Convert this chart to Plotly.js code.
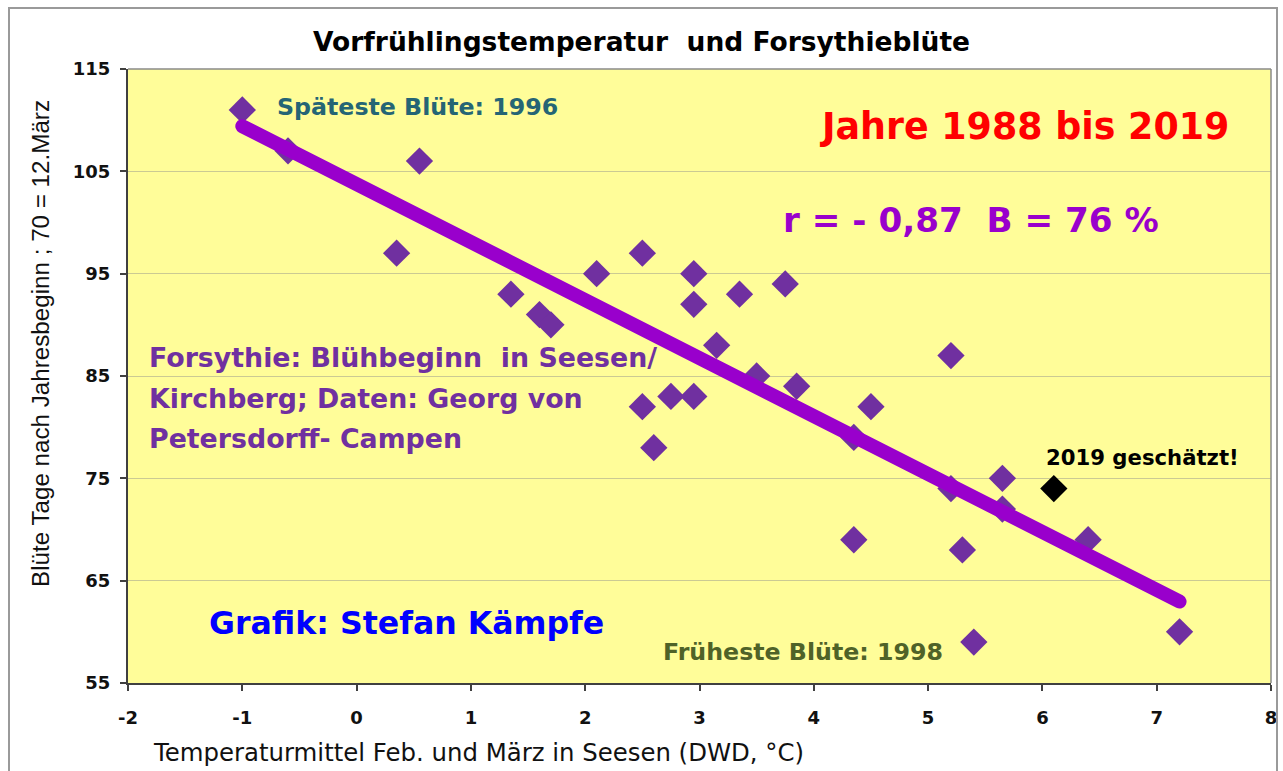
<!DOCTYPE html>
<html>
<head>
<meta charset="utf-8">
<script src="https://cdn.plot.ly/plotly-3.0.1.min.js"></script>
<style>
  html, body { margin: 0; padding: 0; background: #ffffff; }
  #wrap { position: relative; width: 1283px; height: 771px; overflow: hidden; }
  #chart { position: absolute; left: 0; top: 0; width: 1283px; height: 771px; }
  #frame { position: absolute; left: 8px; top: 7px; width: 1266px; height: 800px; border: 2px solid #9a9a9a; pointer-events: none; }
  .scatterlayer .js-line { stroke-linecap: round !important; }
</style>
</head>
<body>
<div id="wrap">
  <div id="chart"></div>
  <div id="frame"></div>
</div>
<script>
// Forsythia bloom (days after 1 Jan) vs. mean Feb/March temperature, Seesen, 1988-2018
const tempX = [-1.0, -0.6, 0.55, 0.35, 1.35, 1.6, 1.7, 2.1, 2.5, 2.95, 2.95, 3.35, 3.75, 3.15, 3.5, 3.85,
               2.5, 2.75, 2.95, 2.6, 5.2, 4.5, 4.35, 5.65, 5.2, 5.65, 4.35, 5.3, 6.4, 5.4, 7.2];
const bloomY = [111, 107, 106, 97, 93, 91, 90, 95, 97, 95, 92, 93, 94, 88, 85, 84,
                82, 83, 83, 78, 87, 82, 79, 75, 74, 72, 69, 68, 69, 59, 60];
// 2019 estimate
const est2019X = [6.1];
const est2019Y = [74];

const xTicks = [-2, -1, 0, 1, 2, 3, 4, 5, 6, 7, 8];
const yTicks = [55, 65, 75, 85, 95, 105, 115];

// least-squares trend line over the data range
const n = tempX.length;
const mx = tempX.reduce((a, b) => a + b, 0) / n;
const my = bloomY.reduce((a, b) => a + b, 0) / n;
let sxy = 0, sxx = 0;
for (let i = 0; i < n; i++) { sxy += (tempX[i] - mx) * (bloomY[i] - my); sxx += (tempX[i] - mx) ** 2; }
const slope = sxy / sxx;
const icpt = my - slope * mx;
const trendX = [Math.min(...tempX), Math.max(...tempX)];
const trendY = trendX.map(x => icpt + slope * x);

const BOLD = 'DejaVu Sans';

const traces = [
  { x: tempX, y: bloomY, type: 'scatter', mode: 'markers',
    marker: { symbol: 'diamond', size: 21, color: '#7030A0', line: { width: 0 } },
    hoverinfo: 'x+y', showlegend: false },
  { x: trendX, y: trendY, type: 'scatter', mode: 'lines',
    line: { color: '#9900CC', width: 14 }, hoverinfo: 'skip', showlegend: false },
  { x: est2019X, y: est2019Y, type: 'scatter', mode: 'markers',
    marker: { symbol: 'diamond', size: 21, color: '#000000', line: { width: 0 } },
    hoverinfo: 'x+y', showlegend: false }
];

function note(text, x, y, size, color, xanchor) {
  return { text: text, x: x, y: y, xref: 'x', yref: 'y', showarrow: false,
           xanchor: xanchor || 'left', yanchor: 'middle',
           font: { family: BOLD, size: size, color: color, weight: 'bold' } };
}

const layout = {
  width: 1283, height: 771,
  paper_bgcolor: '#ffffff',
  plot_bgcolor: '#FFFD99',
  margin: { l: 128, r: 12, t: 69, b: 88, pad: 0 },
  title: {
    text: 'Vorfrühlingstemperatur  und Forsythieblüte',
    x: 0.5, xref: 'container', xanchor: 'center',
    y: 1 - 42 / 771, yref: 'container', yanchor: 'middle',
    font: { family: BOLD, size: 26.5, color: '#000000', weight: 'bold' }
  },
  xaxis: {
    range: [-2, 8], tickvals: xTicks, ticktext: xTicks.map(String),
    showgrid: false, zeroline: false,
    showline: true, linecolor: '#404040', linewidth: 2, mirror: false,
    ticks: 'outside', ticklen: 6, tickwidth: 2, tickcolor: '#404040',
    ticklabelstandoff: 11,
    tickfont: { family: BOLD, size: 18, color: '#111111', weight: 'bold' },
    fixedrange: true
  },
  yaxis: {
    range: [55, 115], tickvals: yTicks, ticktext: yTicks.map(String),
    showgrid: true, gridcolor: 'rgba(140,140,140,0.45)', gridwidth: 1, zeroline: false,
    showline: true, linecolor: '#404040', linewidth: 2, mirror: false,
    ticks: 'outside', ticklen: 6, tickwidth: 2, tickcolor: '#404040',
    ticklabelstandoff: 6,
    tickfont: { family: BOLD, size: 18, color: '#111111', weight: 'bold' },
    fixedrange: true
  },
  shapes: [
    { type: 'line', xref: 'paper', yref: 'paper', x0: 0, x1: 1, y0: 1, y1: 1, line: { color: '#8a8a8a', width: 1.5 } },
    { type: 'line', xref: 'paper', yref: 'paper', x0: 1, x1: 1, y0: 0, y1: 1, line: { color: '#8a8a8a', width: 1.5 } }
  ],
  annotations: [
    note('Späteste Blüte: 1996', -0.71, 111.3, 23.7, '#256575'),
    note('Jahre 1988 bis 2019', 4.03, 109.4, 36.4, '#FF0000'),
    note('r = - 0,87  B = 76 %', 3.71, 100.2, 34.2, '#9900CC'),
    note('Forsythie: Blühbeginn  in Seesen/', -1.83, 86.85, 26.8, '#7030A0'),
    note('Kirchberg; Daten: Georg von', -1.83, 82.84, 26.8, '#7030A0'),
    note('Petersdorff- Campen', -1.83, 78.92, 26.8, '#7030A0'),
    note('2019 geschätzt!', 6.01, 77.06, 21.2, '#000000'),
    note('Grafik: Stefan Kämpfe', -1.31, 60.9, 31.6, '#0000FF'),
    note('Früheste Blüte: 1998', 2.66, 58.06, 23.7, '#4F6228'),
    { text: 'Temperaturmittel Feb. und März in Seesen (DWD, °C)',
      xref: 'paper', yref: 'paper', x: (478 - 128) / 1143, y: -(752 - 683) / 614,
      xanchor: 'center', yanchor: 'middle', showarrow: false,
      font: { family: 'DejaVu Sans', size: 24.4, color: '#111111' } },
    { text: 'Blüte Tage nach Jahresbeginn ; 70 = 12.März',
      xref: 'paper', yref: 'paper', x: (40 - 128) / 1143, y: (683 - 344) / 614,
      xanchor: 'center', yanchor: 'middle', showarrow: false, textangle: -90,
      font: { family: 'Liberation Sans', size: 24.2, color: '#111111' } }
  ],
  showlegend: false
};

Plotly.newPlot('chart', traces, layout, { displayModeBar: false, staticPlot: false });
</script>
</body>
</html>
